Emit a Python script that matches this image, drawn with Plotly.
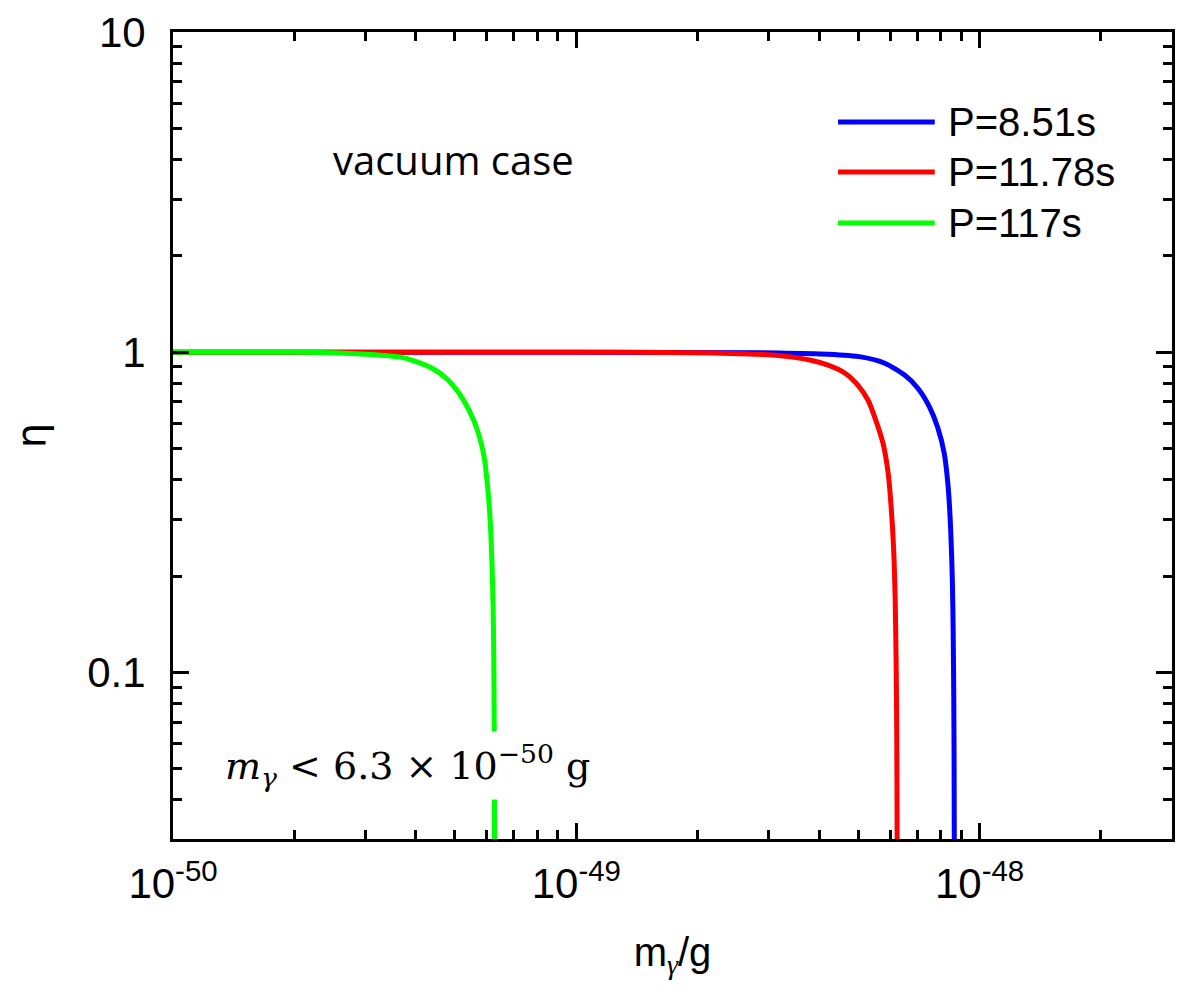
import plotly.graph_objects as go

# Photon mass (g) and ratio eta for three pulsar periods
series_names = ["P=8.51s", "P=11.78s", "P=117s"]
series_colors = ["#0000FF", "#FF0000", "#00FF00"]

m_p851 = [1.0e-50, 1.0e-49, 3.17e-49, 4.21e-49, 5.08e-49, 5.82e-49, 6.53e-49,
          7.03e-49, 7.52e-49, 7.87e-49, 8.17e-49, 8.36e-49, 8.48e-49, 8.56e-49,
          8.60e-49, 8.63e-49, 8.645e-49, 8.655e-49, 8.665e-49]
eta_p851 = [1.0, 1.0, 0.995, 0.986, 0.967, 0.924, 0.847,
            0.772, 0.673, 0.583, 0.484, 0.378, 0.278, 0.194,
            0.135, 0.0833, 0.052, 0.0302, 0.02]

m_p1178 = [1.0e-50, 1.0e-49, 2.01e-49, 2.52e-49, 3.17e-49, 3.82e-49, 4.21e-49,
           4.64e-49, 4.99e-49, 5.29e-49, 5.53e-49, 5.76e-49, 5.934e-49, 6.036e-49,
           6.119e-49, 6.175e-49, 6.21e-49, 6.231e-49, 6.245e-49, 6.25e-49]
eta_p1178 = [1.0, 1.0, 0.997, 0.99, 0.977, 0.944, 0.911,
             0.860, 0.789, 0.708, 0.613, 0.520, 0.419, 0.328,
             0.246, 0.171, 0.107, 0.066, 0.0302, 0.02]

m_p117 = [1.0e-50, 2.06e-50, 2.5e-50, 3.02e-50, 3.64e-50, 4.01e-50, 4.39e-50,
          4.76e-50, 5.12e-50, 5.42e-50, 5.69e-50, 5.91e-50, 6.03e-50, 6.11e-50,
          6.18e-50, 6.224e-50, 6.245e-50, 6.259e-50, 6.27e-50, 6.275e-50]
eta_p117 = [1.0, 1.0, 0.997, 0.986, 0.967, 0.935, 0.891,
            0.829, 0.745, 0.659, 0.570, 0.470, 0.378, 0.305,
            0.219, 0.153, 0.107, 0.0645, 0.0302, 0.02]

x_tickvals = [1e-50, 1e-49, 1e-48]
x_ticktext = ["10<sup>-50</sup>", "10<sup>-49</sup>", "10<sup>-48</sup>"]
y_tickvals = [0.1, 1, 10]
y_ticktext = ["0.1", "1", "10"]

x_range = [-50, -47.5229]   # log10 of 1e-50 .. 3e-48
y_range = [-1.52, 1.0]      # log10 of ~0.03 .. 10

# minor ticks at 2..9 of each decade
x_minor = [d * 10.0 ** e for e in (-50, -49, -48) for d in range(2, 10)]
y_minor = [d * 10.0 ** e for e in (-2, -1, 0) for d in range(2, 10)]

all_m = [m_p851, m_p1178, m_p117]
all_eta = [eta_p851, eta_p1178, eta_p117]

fig = go.Figure()
for name, color, mx, ey in zip(series_names, series_colors, all_m, all_eta):
    fig.add_trace(go.Scatter(x=mx, y=ey, mode="lines", name=name,
                             line=dict(color=color, width=5,
                                       shape="spline", smoothing=0.7),
                             showlegend=False))

axis_common = dict(
    type="log", showgrid=False, zeroline=False,
    showline=True, linecolor="black", linewidth=3, mirror="ticks",
    ticks="inside", ticklen=16, tickwidth=2.5, tickcolor="black",
    tickfont=dict(family="Liberation Sans, Arial", size=42, color="black"),
)

fig.update_xaxes(
    **axis_common, range=x_range,
    tickmode="array", tickvals=x_tickvals, ticktext=x_ticktext,
    ticklabelstandoff=6,
    minor=dict(tickmode="array", tickvals=x_minor, ticks="inside",
               ticklen=9, tickwidth=2.5, tickcolor="black"),
    title=dict(text="m<sub><span style='font-family:Liberation Serif'><i>γ</i></span></sub>/g",
               font=dict(family="Liberation Sans, Arial", size=40, color="black"),
               standoff=32),
)
fig.update_yaxes(
    **axis_common, range=y_range,
    tickmode="array", tickvals=y_tickvals, ticktext=y_ticktext,
    ticklabelstandoff=16,
    minor=dict(tickmode="array", tickvals=y_minor, ticks="inside",
               ticklen=9, tickwidth=2.5, tickcolor="black"),
    title=dict(text="η", font=dict(family="DejaVu Sans", size=40, color="black"),
               standoff=30),
)

# hand-drawn legend in the upper right
legend_y = [0.8885, 0.8265, 0.7633]
for name, color, ly in zip(series_names, series_colors, legend_y):
    fig.add_shape(type="line", xref="paper", yref="paper",
                  x0=0.6657, x1=0.7625, y0=ly, y1=ly,
                  line=dict(color=color, width=5))
    fig.add_annotation(xref="paper", yref="paper", x=0.7735, y=ly,
                       xanchor="left", yanchor="middle", showarrow=False,
                       text=name,
                       font=dict(family="Liberation Sans, Arial", size=40, color="black"))

fig.add_annotation(xref="paper", yref="paper", x=0.2804, y=0.8414,
                   xanchor="center", yanchor="middle", showarrow=False,
                   text="vacuum case",
                   font=dict(family="Open Sans", size=40, color="black"))

fig.add_annotation(xref="paper", yref="paper", x=0.045, y=0.0905,
                   xanchor="left", yanchor="middle", showarrow=False,
                   text="<i>m</i><sub><i>γ</i></sub> &lt; 6.3 × 10<sup>−50</sup> g",
                   bgcolor="white", borderpad=6,
                   font=dict(family="DejaVu Serif", size=38, color="black"))

fig.update_layout(
    width=1180, height=994,
    margin=dict(l=173, r=5, t=32, b=155),
    paper_bgcolor="white", plot_bgcolor="white",
)

fig.write_html("out.html")
